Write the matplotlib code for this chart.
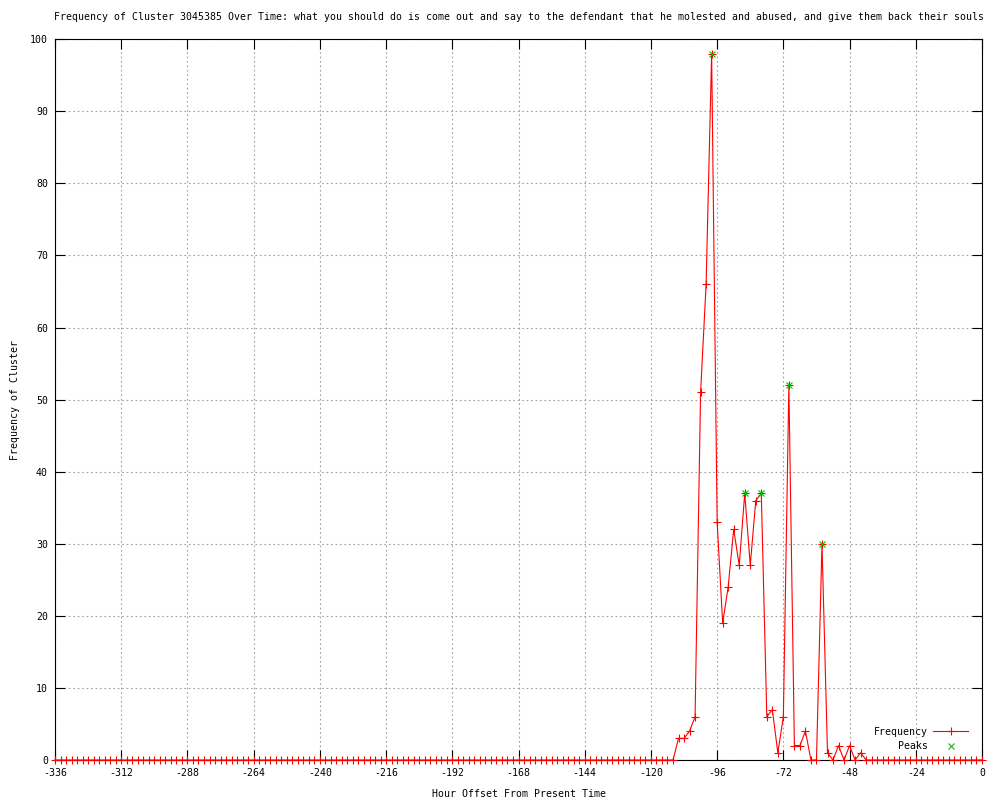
import matplotlib
matplotlib.use("Agg")
import matplotlib.pyplot as plt
from matplotlib.lines import Line2D

plt.rcParams["axes.unicode_minus"] = False

title = ("Frequency of Cluster 3045385 Over Time: what you should do is come out and say "
         "to the defendant that he molested and abused, and give them back their souls")

# hour offsets, one observation every 2 hours from -336 to 0
hours = list(range(-336, 2, 2))

# frequency per 2-hour slot
frequency = [
    0, 0, 0, 0, 0, 0, 0, 0, 0, 0, 0, 0,   # -336 .. -314
    0, 0, 0, 0, 0, 0, 0, 0, 0, 0, 0, 0,   # -312 .. -290
    0, 0, 0, 0, 0, 0, 0, 0, 0, 0, 0, 0,   # -288 .. -266
    0, 0, 0, 0, 0, 0, 0, 0, 0, 0, 0, 0,   # -264 .. -242
    0, 0, 0, 0, 0, 0, 0, 0, 0, 0, 0, 0,   # -240 .. -218
    0, 0, 0, 0, 0, 0, 0, 0, 0, 0, 0, 0,   # -216 .. -194
    0, 0, 0, 0, 0, 0, 0, 0, 0, 0, 0, 0,   # -192 .. -170
    0, 0, 0, 0, 0, 0, 0, 0, 0, 0, 0, 0,   # -168 .. -146
    0, 0, 0, 0, 0, 0, 0, 0, 0, 0, 0, 0,   # -144 .. -122
    0, 0, 0, 0, 0, 3, 3, 4, 6, 51, 66, 98,  # -120 .. -98
    33, 19, 24, 32, 27, 37, 27, 36, 37, 6, 7, 1,  # -96 .. -74
    6, 52, 2, 2, 4, 0, 0, 30, 1, 0, 2, 0,  # -72 .. -50
    2, 0, 1, 0, 0, 0, 0, 0, 0, 0, 0, 0,   # -48 .. -26
    0, 0, 0, 0, 0, 0, 0, 0, 0, 0, 0, 0,   # -24 .. -2
    0,                                    # 0
]

peak_hours = [-98, -86, -80, -70, -58]
peak_values = [98, 37, 37, 52, 30]

x_ticks = list(range(-336, 1, 24))
y_ticks = list(range(0, 101, 10))

font = "DejaVu Sans Mono"
fs = 7.15

fig = plt.figure(figsize=(10, 8), dpi=100)
ax = fig.add_axes([0.055, 0.05, 0.927, 0.901])

ax.plot(hours, frequency, color="#ff0000", linewidth=0.8, marker="+",
        markersize=6, markeredgewidth=0.8, zorder=3, clip_on=False)
ax.plot(peak_hours, peak_values, linestyle="none", color="#00c000", marker="x",
        markersize=5, markeredgewidth=0.8, zorder=4, clip_on=False)

ax.set_xlim(-336, 0)
ax.set_ylim(0, 100)
ax.set_xticks(x_ticks)
ax.set_yticks(y_ticks)
ax.tick_params(direction="in", length=7, width=0.8, top=True, right=True,
               labelsize=fs)
ax.tick_params(axis="x", pad=6)
ax.tick_params(axis="y", pad=5)
for lab in ax.get_xticklabels() + ax.get_yticklabels():
    lab.set_fontfamily(font)

ax.grid(True, color="#a0a0a0", linestyle=(0, (1.5, 2.5)), linewidth=0.8)
ax.set_axisbelow(True)
for s in ax.spines.values():
    s.set_linewidth(0.8)
    s.set_color("black")

ax.set_title(title, fontsize=fs, fontfamily=font, pad=14)
ax.set_xlabel("Hour Offset From Present Time", fontsize=fs, fontfamily=font, labelpad=8)
ax.set_ylabel("Frequency of Cluster", fontsize=fs, fontfamily=font)
ax.yaxis.set_label_coords(-0.038, 0.5)

handles = [
    Line2D([], [], color="#ff0000", linewidth=0.8, marker="+", markersize=6,
           markeredgewidth=0.8),
    Line2D([], [], color="#00c000", linestyle="none", marker="x", markersize=5,
           markeredgewidth=0.8),
]
leg = ax.legend(handles, ["Frequency", "Peaks"], loc="lower right",
                bbox_to_anchor=(0.995, 0.0), frameon=False, markerfirst=False,
                handlelength=3.6, handletextpad=0.5, labelspacing=0.45,
                prop={"family": font, "size": fs})

fig.savefig("out.png", dpi=100)
